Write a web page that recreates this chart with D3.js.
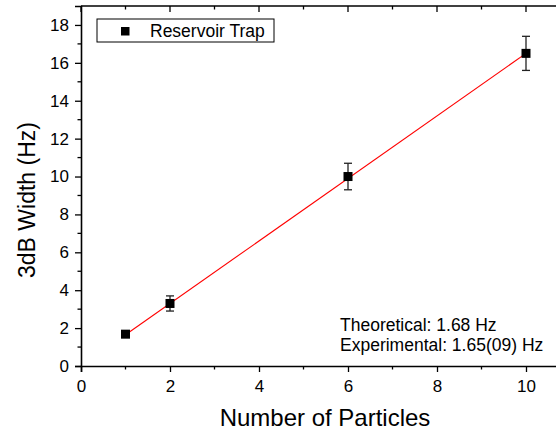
<!DOCTYPE html>
<html>
<head>
<meta charset="utf-8">
<script src="https://cdn.jsdelivr.net/npm/d3@7"></script>
<style>
  body { margin: 0; background: #fff; }
  text { font-family: Arial, "Liberation Sans", sans-serif; fill: #000; }
</style>
</head>
<body>
<script>
// measured points
var particles = [1, 2, 6, 10];
var widths = [1.68, 3.3, 10.0, 16.5];
var widthErr = [0.08, 0.4, 0.7, 0.9];
// linear fit, 1.65 Hz per particle
var fitX = [1, 10];
var fitY = [1.65, 16.5];
var xTicks = [0, 2, 4, 6, 8, 10];
var yTicks = [0, 2, 4, 6, 8, 10, 12, 14, 16, 18];
var notes = ["Theoretical: 1.68 Hz", "Experimental: 1.65(09) Hz"];

var W = 556, H = 431;
var margin = {top: 6, left: 81, bottom: 65};

var svg = d3.select("body").append("svg")
    .attr("width", W)
    .attr("height", H);

var x = d3.scaleLinear().domain([0, 11]).range([margin.left, margin.left + 11 * 44.5]);
var y = d3.scaleLinear().domain([0, 19]).range([H - margin.bottom, margin.top]);

// axes
var xAxis = d3.axisBottom(x).tickValues(xTicks).tickSize(6).tickPadding(8);
var yAxis = d3.axisLeft(y).tickValues(yTicks).tickSize(6).tickPadding(6);

var gx = svg.append("g")
    .attr("transform", "translate(0," + y(0) + ")")
    .call(xAxis);
var gy = svg.append("g")
    .attr("transform", "translate(" + x(0) + ",0)")
    .call(yAxis);

// minor ticks
gx.selectAll(".minor").data([1, 3, 5, 7, 9]).enter().append("line")
    .attr("x1", function(d) { return x(d); }).attr("x2", function(d) { return x(d); })
    .attr("y1", 0).attr("y2", 3.5).attr("stroke", "#000").attr("stroke-width", 1.3);
gy.selectAll(".minor").data([1, 3, 5, 7, 9, 11, 13, 15, 17]).enter().append("line")
    .attr("y1", function(d) { return y(d); }).attr("y2", function(d) { return y(d); })
    .attr("x1", 0).attr("x2", -3.5).attr("stroke", "#000").attr("stroke-width", 1.3);

// top axis, ticks inward
var topG = svg.append("g");
topG.append("line").attr("x1", x(0)).attr("x2", x(11)).attr("y1", y(19)).attr("y2", y(19))
    .attr("stroke", "#000").attr("stroke-width", 1.6);
topG.selectAll(".tt").data(d3.range(0, 11)).enter().append("line")
    .attr("x1", function(d) { return x(d); }).attr("x2", function(d) { return x(d); })
    .attr("y1", y(19))
    .attr("y2", function(d) { return y(19) + (d % 2 === 0 ? 6 : 3.5); })
    .attr("stroke", "#000").attr("stroke-width", 1.3);

[gx, gy].forEach(function(g) {
  g.select(".domain").attr("stroke-width", 1.6);
  g.selectAll(".tick line").attr("stroke-width", 1.3);
  g.selectAll(".tick text").style("font-size", "17px").attr("fill", "#000");
});

// axis titles
svg.append("text")
    .attr("x", 325).attr("y", 426)
    .attr("text-anchor", "middle")
    .style("font-size", "24px")
    .text("Number of Particles");
svg.append("text")
    .attr("transform", "translate(35," + 200 + ") rotate(-90)")
    .attr("text-anchor", "middle")
    .style("font-size", "23px")
    .text("3dB Width (Hz)");

// fit line
svg.append("line")
    .attr("x1", x(fitX[0])).attr("y1", y(fitY[0]))
    .attr("x2", x(fitX[1])).attr("y2", y(fitY[1]))
    .attr("stroke", "#ff0000").attr("stroke-width", 1.1);

// error bars
var data = particles.map(function(p, i) { return {x: p, y: widths[i], e: widthErr[i]}; });
var eb = svg.selectAll(".err").data(data).enter().append("g").attr("stroke", "#222").attr("stroke-width", 1.3);
eb.append("line")
    .attr("x1", function(d) { return x(d.x); }).attr("x2", function(d) { return x(d.x); })
    .attr("y1", function(d) { return y(d.y - d.e); }).attr("y2", function(d) { return y(d.y + d.e); });
eb.selectAll(".cap").data(function(d) { return [[d.x, d.y - d.e], [d.x, d.y + d.e]]; }).enter().append("line")
    .attr("x1", function(d) { return x(d[0]) - 4; }).attr("x2", function(d) { return x(d[0]) + 4; })
    .attr("y1", function(d) { return y(d[1]); }).attr("y2", function(d) { return y(d[1]); });

// markers
svg.selectAll(".pt").data(data).enter().append("rect")
    .attr("x", function(d) { return x(d.x) - 4.5; })
    .attr("y", function(d) { return y(d.y) - 4.5; })
    .attr("width", 9).attr("height", 9)
    .attr("fill", "#000");

// legend
var lg = svg.append("g");
lg.append("rect").attr("x", 97).attr("y", 19).attr("width", 177).attr("height", 23)
    .attr("fill", "#fff").attr("stroke", "#000").attr("stroke-width", 1);
lg.append("rect").attr("x", 121).attr("y", 27).attr("width", 8.5).attr("height", 8.5).attr("fill", "#000");
lg.append("text").attr("x", 150).attr("y", 37).style("font-size", "17.5px").text("Reservoir Trap");

// annotation
svg.selectAll(".note").data(notes).enter().append("text")
    .attr("x", 340)
    .attr("y", function(d, i) { return 331 + i * 20; })
    .style("font-size", "17.5px")
    .text(function(d) { return d; });
</script>
</body>
</html>
